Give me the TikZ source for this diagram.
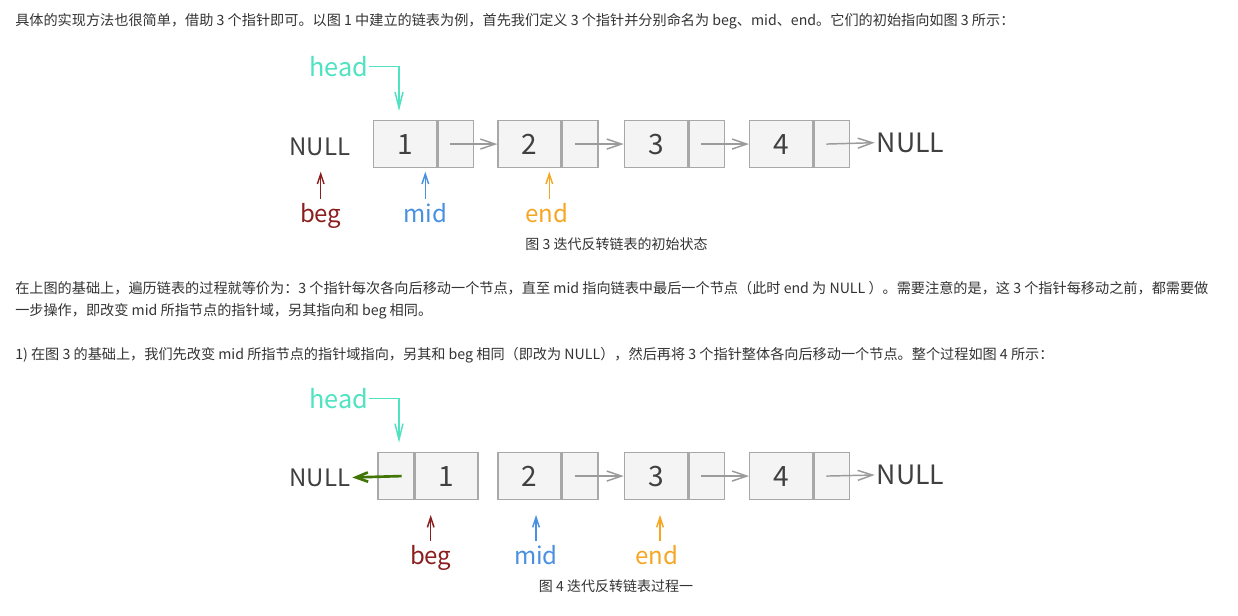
\documentclass[tikz,border=0pt]{standalone}
\usepackage{fontspec}
\setmainfont{Noto Sans CJK SC}
\usetikzlibrary{arrows.meta,calc}
\definecolor{txt}{HTML}{333333}
\definecolor{numgray}{HTML}{404040}
\definecolor{boxline}{HTML}{A8A8A8}
\definecolor{boxfill}{HTML}{F4F4F4}
\definecolor{linkgray}{HTML}{9B9B9B}
\definecolor{headc}{HTML}{50E3C2}
\definecolor{begc}{HTML}{8B1F1F}
\definecolor{midc}{HTML}{4A90E2}
\definecolor{endc}{HTML}{F5A623}
\definecolor{greenc}{HTML}{417505}
\begin{document}
\begin{tikzpicture}[x=0.75pt,y=-0.75pt,
  body/.style={anchor=west,inner sep=0pt,text=txt,font=\fontsize{10.62pt}{12pt}\selectfont},
  caption/.style={inner sep=0pt,text=txt,font=\fontsize{10.5pt}{12pt}\selectfont},
  datacell/.style={draw=boxline,fill=boxfill,line width=1.1pt,minimum width=47.25pt,minimum height=35pt,inner sep=0pt,text=numgray,font=\fontsize{21pt}{24pt}\selectfont},
  ptrcell/.style={draw=boxline,fill=boxfill,line width=1.1pt,minimum width=26.5pt,minimum height=35pt,inner sep=0pt},
  nullL/.style={inner sep=1.5pt,text=numgray,font=\fontsize{18pt}{20pt}\selectfont},
  nullR/.style={inner sep=1.5pt,text=numgray,font=\fontsize{20pt}{22pt}\selectfont},
  headlbl/.style={inner sep=0.5pt,text=headc,font=\fontsize{19pt}{22pt}\selectfont},
  ptrlbl/.style={anchor=north,inner sep=3pt,font=\fontsize{18pt}{20pt}\selectfont},
  link/.style={draw=linkgray,line width=1.1pt,-{Straight Barb[length=11pt,width=7.5pt]}},
  pointer/.style={line width=1.1pt,-{Straight Barb[length=7.5pt,width=5pt]}},
  headline/.style={draw=headc,line width=1.1pt,-{Straight Barb[length=12pt,width=6pt]}},
  revlink/.style={draw=greenc,line width=2pt,-{Straight Barb[length=9pt,width=7pt]}}
]
\useasboundingbox[fill=white] (0,0) rectangle (1238,616);

% ---------- text ----------
\node[body] (t1) at (15,21) {具体的实现方法也很简单，借助 3 个指针即可。以图 1 中建立的链表为例，首先我们定义 3 个指针并分别命名为 beg、mid、end。它们的初始指向如图 3 所示：};
\node[body] (t2) at (15,288) {在上图的基础上，遍历链表的过程就等价为：3 个指针每次各向后移动一个节点，直至 mid 指向链表中最后一个节点（此时 end 为 NULL ）。需要注意的是，这 3 个指针每移动之前，都需要做};
\node[body] (t3) at (15,311) {一步操作，即改变 mid 所指节点的指针域，另其指向和 beg 相同。};
\node[body] (t4) at (15,355) {1) 在图 3 的基础上，我们先改变 mid 所指节点的指针域指向，另其和 beg 相同（即改为 NULL），然后再将 3 个指针整体各向后移动一个节点。整个过程如图 4 所示：};

% ---------- figure 3 ----------
\node[datacell,anchor=north west] (a1) at (372.7,120) {1};
\node[ptrcell,anchor=west] (ap1) at (a1.east) {};
\node[datacell,anchor=north west] (a2) at (497.3,120) {2};
\node[ptrcell,anchor=west] (ap2) at (a2.east) {};
\node[datacell,anchor=north west] (a3) at (623.7,120) {3};
\node[ptrcell,anchor=west] (ap3) at (a3.east) {};
\node[datacell,anchor=north west] (a4) at (749,120) {4};
\node[ptrcell,anchor=west] (ap4) at (a4.east) {};
\node[nullL] (anl) at (319.7,146.5) {NULL};
\node[nullR,anchor=west] (anr) at (874.7,142.7) {NULL};
\node[headlbl] (ahead) at (338.5,66.5) {head};
\coordinate (aheadt) at (399,111);
\draw[headline] (ahead.east) -| (aheadt);

\draw[link] ($(ap1.center)+(-5.5,0)$) -- (a2.west);
\draw[link] ($(ap2.center)+(-5.5,0)$) -- (a3.west);
\draw[link] ($(ap3.center)+(-5.5,0)$) -- (a4.west);
\draw[link] ($(ap4.center)+(-5.5,0)$) -- (anr.west);

\node[ptrlbl,text=begc] (abeg) at (320.7,199) {beg};
\node[ptrlbl,text=midc] (amid) at (425.3,199) {mid};
\node[ptrlbl,text=endc] (aend) at (546.5,199) {end};
\draw[pointer,draw=begc] (abeg.north) -- ++(0,-27.3);
\draw[pointer,draw=midc] (amid.north) -- ++(0,-27.3);
\draw[pointer,draw=endc] ($(aend.north)+(2.8,0)$) -- ++(0,-27.3);

\node[caption] (cap3) at (616.5,244) {图 3 迭代反转链表的初始状态};

% ---------- figure 4 ----------
\node[ptrcell,anchor=north west] (bp1) at (377.3,452) {};
\node[datacell,anchor=west] (b1) at (bp1.east) {1};
\node[datacell,anchor=north west] (b2) at (497.3,452) {2};
\node[ptrcell,anchor=west] (bp2) at (b2.east) {};
\node[datacell,anchor=north west] (b3) at (623.7,452) {3};
\node[ptrcell,anchor=west] (bp3) at (b3.east) {};
\node[datacell,anchor=north west] (b4) at (749,452) {4};
\node[ptrcell,anchor=west] (bp4) at (b4.east) {};
\node[nullL] (bnl) at (319.7,477.5) {NULL};
\node[nullR,anchor=west] (bnr) at (874.7,475) {NULL};
\node[headlbl] (bhead) at (338.5,398.5) {head};
\coordinate (bheadt) at (399,442.7);
\draw[headline] (bhead.east) -| (bheadt);

\draw[revlink] ($(bp1.center)+(6,0)$) -- (bnl.east);
\draw[link] ($(bp2.center)+(-5.5,0)$) -- (b3.west);
\draw[link] ($(bp3.center)+(-5.5,0)$) -- (b4.west);
\draw[link] ($(bp4.center)+(-5.5,0)$) -- (bnr.west);

\node[ptrlbl,text=begc] (bbeg) at (430.7,541) {beg};
\node[ptrlbl,text=midc] (bmid) at (536,541) {mid};
\node[ptrlbl,text=endc] (bend) at (656.5,541) {end};
\draw[pointer,draw=begc] (bbeg.north) -- ++(0,-26);
\draw[pointer,draw=midc] (bmid.north) -- ++(0,-26);
\draw[pointer,draw=endc] ($(bend.north)+(3.5,0)$) -- ++(0,-26);

\node[caption] (cap4) at (616,586) {图 4 迭代反转链表过程一};
\end{tikzpicture}
\end{document}
